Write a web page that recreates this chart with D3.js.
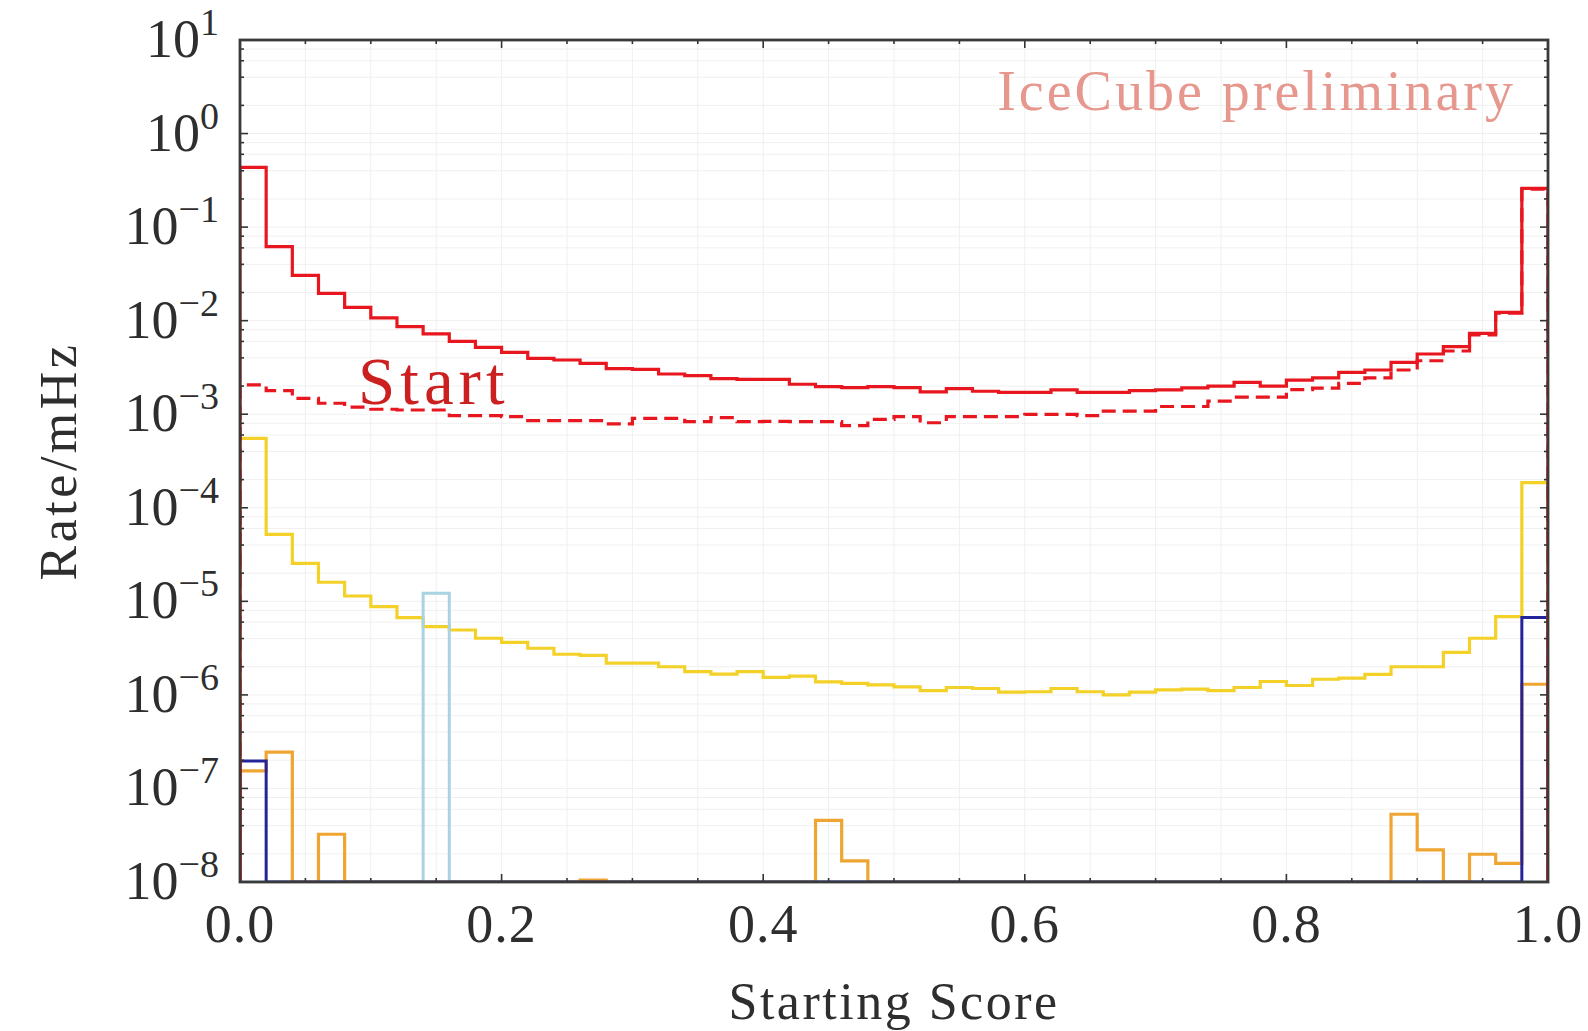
<!DOCTYPE html>
<html>
<head>
<meta charset="utf-8">
<script src="https://cdn.jsdelivr.net/npm/d3@7"></script>
<style>
  html, body { margin: 0; padding: 0; background: #fff; }
  svg { display: block; }
  text { font-family: "Liberation Serif", "DejaVu Serif", serif; fill: #2e2e2e; }
</style>
</head>
<body>
<svg id="chart" width="1588" height="1031"></svg>
<script>
// Histogram binning: 50 bins of width 0.02 on the starting score
const binWidth = 0.02;
const nBins = 50;

// Rate per bin (mHz); 0 = empty bin
const startAll = [
  0.435, 0.0618, 0.0305, 0.0196, 0.0139, 0.0107, 0.00863, 0.00721, 0.00601, 0.00519,
  0.00459, 0.00396, 0.0038, 0.0035, 0.00307, 0.00302, 0.00269, 0.00258, 0.0024, 0.00236,
  0.00236, 0.00209, 0.00197, 0.00192, 0.00197, 0.00192, 0.00173, 0.00188, 0.00176, 0.00171,
  0.00171, 0.00182, 0.00171, 0.00171, 0.00179, 0.00182, 0.00191, 0.002, 0.00219, 0.002,
  0.00232, 0.00245, 0.0028, 0.00297, 0.00359, 0.0044, 0.00527, 0.00732, 0.01228, 0.259
];
const startTrue = [
  0.00206, 0.00179, 0.00148, 0.00131, 0.00119, 0.00113, 0.00111, 0.00111, 0.000966, 0.000966,
  0.000942, 0.000855, 0.000855, 0.000855, 0.000788, 0.000904, 0.000904, 0.000832, 0.000919, 0.000832,
  0.00084, 0.000832, 0.000832, 0.000755, 0.00088, 0.000942, 0.000811, 0.000942, 0.000942, 0.000942,
  0.000998, 0.000998, 0.000966, 0.00108, 0.00108, 0.00121, 0.00121, 0.00138, 0.00152, 0.00152,
  0.00183, 0.0019, 0.00214, 0.00245, 0.00297, 0.00373, 0.00474, 0.00703, 0.012, 0.255
];
const yellowRate = [
  5.53e-4, 5.2e-5, 2.55e-5, 1.6e-5, 1.14e-5, 8.77e-6, 6.69e-6, 5.36e-6, 4.94e-6, 4.03e-6,
  3.65e-6, 3.15e-6, 2.72e-6, 2.65e-6, 2.18e-6, 2.18e-6, 2.0e-6, 1.77e-6, 1.67e-6, 1.77e-6,
  1.54e-6, 1.59e-6, 1.38e-6, 1.33e-6, 1.28e-6, 1.22e-6, 1.11e-6, 1.2e-6, 1.17e-6, 1.07e-6,
  1.08e-6, 1.17e-6, 1.08e-6, 9.98e-7, 1.07e-6, 1.13e-6, 1.15e-6, 1.11e-6, 1.2e-6, 1.39e-6,
  1.26e-6, 1.47e-6, 1.51e-6, 1.66e-6, 2.0e-6, 2.0e-6, 2.85e-6, 4.03e-6, 6.86e-6, 1.86e-4
];
const orangeRate = [
  1.54e-7, 2.44e-7, 0, 3.24e-8, 0, 0, 0, 0, 0, 0,
  0, 0, 0, 1.05e-8, 0, 0, 0, 0, 0, 0,
  0, 0, 4.56e-8, 1.68e-8, 0, 0, 0, 0, 0, 0,
  0, 0, 0, 0, 0, 0, 0, 0, 0, 0,
  0, 0, 0, 0, 5.3e-8, 2.2e-8, 0, 1.98e-8, 1.58e-8, 1.3e-6
];
const lightBlueRate = [
  0, 0, 0, 0, 0, 0, 0, 1.22e-5, 0, 0,
  0, 0, 0, 0, 0, 0, 0, 0, 0, 0,
  0, 0, 0, 0, 0, 0, 0, 0, 0, 0,
  0, 0, 0, 0, 0, 0, 0, 0, 0, 0,
  0, 0, 0, 0, 0, 0, 0, 0, 0, 0
];
const darkBlueRate = [
  1.97e-7, 0, 0, 0, 0, 0, 0, 0, 0, 0,
  0, 0, 0, 0, 0, 0, 0, 0, 0, 0,
  0, 0, 0, 0, 0, 0, 0, 0, 0, 0,
  0, 0, 0, 0, 0, 0, 0, 0, 0, 0,
  0, 0, 0, 0, 0, 0, 0, 0, 0, 6.7e-6
];

// Axis ticks
const xMajorTicks = [0, 0.2, 0.4, 0.6, 0.8, 1.0];
const xMinorTicks = [0.05, 0.1, 0.15, 0.25, 0.3, 0.35, 0.45, 0.5, 0.55, 0.65, 0.7, 0.75, 0.85, 0.9, 0.95];
const yExponents = [1, 0, -1, -2, -3, -4, -5, -6, -7, -8];
const yMinorMantissas = [2, 4, 6, 8];

const svg = d3.select("#chart");
const plotLeft = 240, plotRight = 1548, plotTop = 40, plotBottom = 882;

const x = d3.scaleLinear().domain([0, 1]).range([plotLeft, plotRight]);
const y = d3.scaleLog().domain([1e-8, 10]).range([plotBottom, plotTop]);

const yMinorVals = [];
yExponents.slice(1).forEach(e => yMinorMantissas.forEach(m => yMinorVals.push(m * Math.pow(10, e))));

// grid
const grid = svg.append("g").attr("stroke", "#f0f0f0").attr("stroke-width", 1);
xMajorTicks.concat(xMinorTicks).forEach(v => {
  grid.append("line").attr("x1", x(v)).attr("x2", x(v)).attr("y1", plotTop).attr("y2", plotBottom);
});
yExponents.map(e => Math.pow(10, e)).concat(yMinorVals).forEach(v => {
  grid.append("line").attr("x1", plotLeft).attr("x2", plotRight).attr("y1", y(v)).attr("y2", y(v));
});

// clip to the plotting frame
svg.append("clipPath").attr("id", "plotClip")
  .append("rect").attr("x", plotLeft).attr("y", plotTop)
  .attr("width", plotRight - plotLeft).attr("height", plotBottom - plotTop);

const yFloor = y.domain()[0];
function stepPoints(vals) {
  const pts = [[0, yFloor]];
  vals.forEach((v, i) => {
    const val = v > 0 ? v : yFloor;
    pts.push([i * binWidth, val], [(i + 1) * binWidth, val]);
  });
  pts.push([nBins * binWidth, yFloor]);
  return pts;
}
const line = d3.line().x(d => x(d[0])).y(d => y(Math.max(d[1], yFloor)));

const hist = svg.append("g").attr("clip-path", "url(#plotClip)").attr("fill", "none")
  .attr("stroke-linejoin", "miter");

const series = [
  { vals: yellowRate, color: "#f4d128", width: 3.2 },
  { vals: lightBlueRate, color: "#a9d2e3", width: 3 },
  { vals: orangeRate, color: "#efa531", width: 3.2 },
  { vals: darkBlueRate, color: "#24249a", width: 3 },
  { vals: startTrue, color: "#e8161e", width: 3.2, dash: "14,7" },
  { vals: startAll, color: "#e8161e", width: 3.2 }
];
series.forEach(s => {
  hist.append("path")
    .attr("d", line(stepPoints(s.vals)))
    .attr("stroke", s.color)
    .attr("stroke-width", s.width)
    .attr("stroke-dasharray", s.dash || null);
});

// ticks on all four sides, pointing inwards
const ticks = svg.append("g").attr("stroke", "#333").attr("stroke-width", 1.6);
xMajorTicks.forEach(v => {
  ticks.append("line").attr("x1", x(v)).attr("x2", x(v)).attr("y1", plotBottom).attr("y2", plotBottom - 8);
  ticks.append("line").attr("x1", x(v)).attr("x2", x(v)).attr("y1", plotTop).attr("y2", plotTop + 8);
});
xMinorTicks.forEach(v => {
  ticks.append("line").attr("x1", x(v)).attr("x2", x(v)).attr("y1", plotBottom).attr("y2", plotBottom - 4);
  ticks.append("line").attr("x1", x(v)).attr("x2", x(v)).attr("y1", plotTop).attr("y2", plotTop + 4);
});
yExponents.forEach(e => {
  const v = Math.pow(10, e);
  ticks.append("line").attr("x1", plotLeft).attr("x2", plotLeft + 8).attr("y1", y(v)).attr("y2", y(v));
  ticks.append("line").attr("x1", plotRight).attr("x2", plotRight - 8).attr("y1", y(v)).attr("y2", y(v));
});
yMinorVals.forEach(v => {
  ticks.append("line").attr("x1", plotLeft).attr("x2", plotLeft + 4).attr("y1", y(v)).attr("y2", y(v));
  ticks.append("line").attr("x1", plotRight).attr("x2", plotRight - 4).attr("y1", y(v)).attr("y2", y(v));
});

// frame
svg.append("rect").attr("x", plotLeft).attr("y", plotTop)
  .attr("width", plotRight - plotLeft).attr("height", plotBottom - plotTop)
  .attr("fill", "none").attr("stroke", "#3a3a3a").attr("stroke-width", 2.8);

// y tick labels 10^n
yExponents.forEach(e => {
  const t = svg.append("text")
    .attr("x", 219).attr("y", y(Math.pow(10, e)) + 17)
    .attr("text-anchor", "end")
    .attr("font-size", 54);
  t.append("tspan").text("10");
  t.append("tspan").attr("font-size", 38).attr("dy", -22)
    .text(e < 0 ? "\u2212" + Math.abs(e) : String(e));
});

// x tick labels
xMajorTicks.forEach(v => {
  svg.append("text").attr("x", x(v)).attr("y", 942)
    .attr("text-anchor", "middle").attr("font-size", 54).attr("letter-spacing", 1)
    .text(d3.format(".1f")(v));
});

// axis titles
svg.append("text").attr("x", (plotLeft + plotRight) / 2).attr("y", 1019)
  .attr("text-anchor", "middle").attr("font-size", 52).attr("letter-spacing", 2.5)
  .text("Starting Score");
svg.append("text")
  .attr("transform", `translate(76,${(plotTop + plotBottom) / 2}) rotate(-90)`)
  .attr("text-anchor", "middle").attr("font-size", 52).attr("letter-spacing", 3.5)
  .text("Rate/mHz");

// annotations
svg.append("text").attr("x", 1516).attr("y", 110)
  .attr("text-anchor", "end").attr("font-size", 56).attr("letter-spacing", 3)
  .style("fill", "#e6978e")
  .text("IceCube preliminary");
svg.append("text").attr("x", 358).attr("y", 404)
  .attr("font-size", 67).attr("letter-spacing", 5)
  .style("fill", "#cc2020")
  .text("Start");
</script>
</body>
</html>
